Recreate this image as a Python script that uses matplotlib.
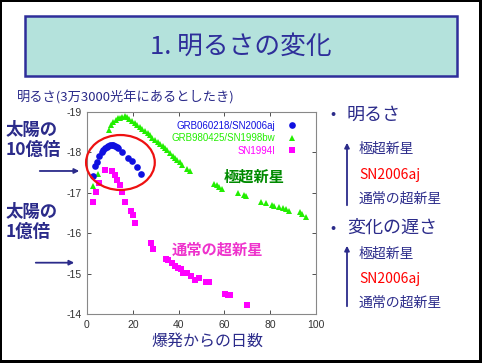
import matplotlib
matplotlib.use("Agg")
import matplotlib.pyplot as plt
from matplotlib.patches import Rectangle, Ellipse

plt.rcParams['font.family'] = ['Noto Sans CJK JP', 'DejaVu Sans']
plt.rcParams['axes.unicode_minus'] = False

W, H = 482, 363
NAVY = '#2b2b8a'

# データ
sn2006aj_day = [2.6, 3.5, 4.2, 5.2, 6.4, 7.2, 7.9, 8.6, 9.3, 10.0, 10.8, 11.5, 12.2,
                13.0, 13.7, 15.1, 18.0, 19.5, 21.7, 23.6]
sn2006aj_mag = [-17.42, -17.67, -17.77, -17.90, -18.00, -18.06, -18.10, -18.14, -18.17,
                -18.18, -18.19, -18.18, -18.16, -18.13, -18.10, -18.02, -17.87, -17.79,
                -17.65, -17.47]

sn1998bw_day = [2.8, 4.9, 9.5, 10.5, 11.5, 12.5, 13.5, 14.5, 15.5, 16.5, 17.3, 18.5,
                19.5, 21.0, 22.0, 23.0, 24.0, 25.3, 26.5, 27.5, 28.5, 29.7, 31.0, 32.0,
                33.0, 34.0, 35.0, 36.2, 37.5, 38.5, 39.1, 40.5, 41.3, 43.5, 45.0, 55.5,
                56.6, 57.5, 58.8, 66.0, 68.5, 69.4, 75.8, 78.2, 81.0, 81.7, 84.0, 85.5,
                87.0, 88.2, 93.0, 94.0, 95.6]
sn1998bw_mag = [-17.18, -17.46, -18.55, -18.68, -18.76, -18.80, -18.84, -18.86, -18.88,
                -18.90, -18.88, -18.83, -18.78, -18.72, -18.68, -18.64, -18.59, -18.53,
                -18.47, -18.42, -18.36, -18.31, -18.25, -18.20, -18.15, -18.10, -18.05,
                -17.98, -17.92, -17.86, -17.81, -17.75, -17.69, -17.60, -17.54, -17.22,
                -17.19, -17.15, -17.10, -16.99, -16.94, -16.91, -16.78, -16.74, -16.70,
                -16.68, -16.65, -16.63, -16.60, -16.55, -16.52, -16.48, -16.41]

sn1994i_day = [2.8, 3.9, 5.3, 7.9, 10.8, 12.2, 13.2, 14.4, 15.5, 16.6, 19.0, 19.9, 21.0,
               27.9, 29.0, 34.3, 35.2, 37.2, 38.4, 39.9, 40.9, 42.0, 43.5, 45.3, 47.2,
               49.0, 51.9, 53.1, 60.3, 61.5, 62.6, 70.0]
sn1994i_mag = [-16.78, -17.01, -17.24, -17.56, -17.54, -17.44, -17.32, -17.19, -17.03,
               -16.78, -16.56, -16.45, -16.25, -15.75, -15.60, -15.35, -15.34, -15.27,
               -15.19, -15.13, -15.11, -15.02, -15.01, -14.94, -14.84, -14.88, -14.78,
               -14.80, -14.49, -14.48, -14.48, -14.22]

x_ticks = [0, 20, 40, 60, 80, 100]
y_ticks = [-19, -18, -17, -16, -15, -14]


def fx(x):
    return x / W


def fy(y):
    return 1 - y / H


fig = plt.figure(figsize=(W / 100, H / 100), dpi=100)
fig.patch.set_facecolor('black')
fig.add_artist(Rectangle((fx(2), fy(360)), fx(477), 358 / H, transform=fig.transFigure,
                         facecolor='white', edgecolor='none', zorder=0))

# タイトル枠
fig.add_artist(Rectangle((fx(25), fy(76)), fx(432), 60 / H, transform=fig.transFigure,
                         facecolor='#b4e2dc', edgecolor='#2e2e9a', linewidth=1.8, zorder=1))
fig.text(fx(241), fy(47), '1. 明るさの変化', color='#2e2e9a', fontsize=18.5,
         ha='center', va='center', zorder=2)

fig.text(fx(17), fy(98), '明るさ(3万3000光年にあるとしたき)', color=NAVY, fontsize=9.5,
         ha='left', va='center')

ax = fig.add_axes([fx(87), fy(314), fx(316 - 87), (314 - 112) / H])
ax.plot(sn2006aj_day, sn2006aj_mag, 'o', color='#1010e0', markersize=4.8, mew=0,
        label='GRB060218/SN2006aj', zorder=4)
ax.plot(sn1998bw_day, sn1998bw_mag, '^', color='#22ee00', markersize=4.5, mew=0,
        label='GRB980425/SN1998bw', zorder=3)
ax.plot(sn1994i_day, sn1994i_mag, 's', color='#ff00ff', markersize=4.2, mew=0,
        label='SN1994I', zorder=3)

ax.set_xlim(0, 100)
ax.set_ylim(-14, -19)
ax.set_xticks(x_ticks)
ax.set_yticks(y_ticks)
ax.tick_params(direction='in', length=3, width=0.6, top=True, right=True,
               labelsize=7.5, colors='#333333', pad=4)
for lab in ax.get_xticklabels() + ax.get_yticklabels():
    lab.set_family(['Liberation Sans', 'DejaVu Sans'])
for sp in ax.spines.values():
    sp.set_color('#888888')
    sp.set_linewidth(0.8)

ax.add_patch(Ellipse((14.6, -17.75), 30, 1.36, fill=False, edgecolor='#ee1111',
                     linewidth=1.6, clip_on=False, zorder=5))

leg = ax.legend(loc='upper right', bbox_to_anchor=(0.94, 0.985), frameon=False,
                markerfirst=False, labelspacing=0.25, handletextpad=1.2,
                handlelength=1.0, borderaxespad=0.2,
                prop={'family': ['Liberation Sans Narrow', 'Liberation Sans'], 'size': 7})
for txt, c in zip(leg.get_texts(), ['#1010e0', '#22ee00', '#ff00ff']):
    txt.set_color(c)

ax.text(73, -17.4, '極超新星', color='#008a00', fontsize=11, fontweight='bold',
        ha='center', va='center')
ax.text(57, -15.6, '通常の超新星', color='#ee33cc', fontsize=11, fontweight='bold',
        ha='center', va='center')

fig.text(fx(207), fy(341), '爆発からの日数', color=NAVY, fontsize=11.5,
         ha='center', va='center')

# 左側の注記
fig.text(fx(6), fy(140), '太陽の\n10億倍', color=NAVY, fontsize=12.5, fontweight='bold',
         ha='left', va='center', linespacing=1.15)
fig.text(fx(6), fy(222), '太陽の\n1億倍', color=NAVY, fontsize=12.5, fontweight='bold',
         ha='left', va='center', linespacing=1.15)
ax.annotate('', xy=(fx(82), -17.54), xytext=(fx(37), -17.54),
            xycoords=('figure fraction', 'data'), textcoords=('figure fraction', 'data'),
            arrowprops=dict(arrowstyle='-|>', color=NAVY, lw=1.3, mutation_scale=7),
            annotation_clip=False)
ax.annotate('', xy=(fx(77), -15.27), xytext=(fx(33), -15.27),
            xycoords=('figure fraction', 'data'), textcoords=('figure fraction', 'data'),
            arrowprops=dict(arrowstyle='-|>', color=NAVY, lw=1.3, mutation_scale=7),
            annotation_clip=False)

# 右側の箇条書き
right_items = [
    (115, '•', '明るさ'),
    (228, '•', '変化の遅さ'),
]
for y, b, s in right_items:
    fig.text(fx(333), fy(y), b, color=NAVY, fontsize=11, ha='center', va='center')
    fig.text(fx(347), fy(y), s, color=NAVY, fontsize=13, ha='left', va='center')

sub_items = [
    (149, '極超新星', NAVY),
    (175, 'SN2006aj', '#ff0000'),
    (199, '通常の超新星', NAVY),
    (254, '極超新星', NAVY),
    (279, 'SN2006aj', '#ff0000'),
    (303, '通常の超新星', NAVY),
]
for y, s, c in sub_items:
    fig.text(fx(359), fy(y), s, color=c, fontsize=10, ha='left', va='center')

for y0, y1 in [(208, 140), (309, 243)]:
    fig.add_artist(plt.Annotation('', xy=(fx(347), fy(y1)), xytext=(fx(347), fy(y0)),
                                  xycoords='figure fraction', textcoords='figure fraction',
                                  arrowprops=dict(arrowstyle='-|>', color=NAVY, lw=1.3,
                                                  mutation_scale=7)))

fig.savefig('out.png', dpi=100, facecolor=fig.get_facecolor())
